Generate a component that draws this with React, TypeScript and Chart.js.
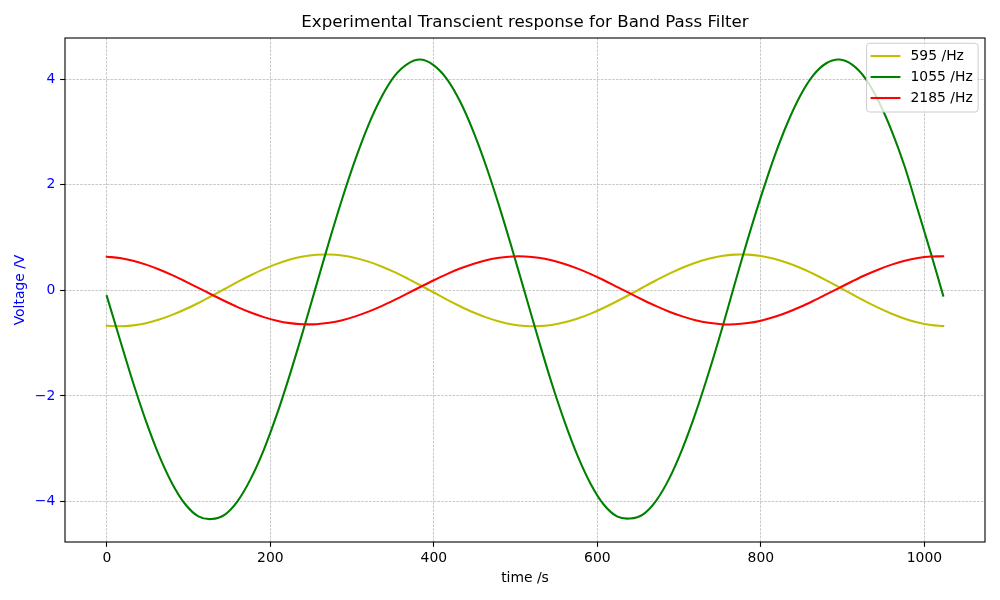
import { useEffect, useRef } from 'react';
import { Chart, registerables } from 'chart.js';

Chart.register(...registerables);

// ---- data ----
const timeValues = [
  0, 16, 32, 48, 64, 80, 96, 112,
  128, 144, 160, 176, 192, 208, 224, 240,
  256, 272, 288, 304, 320, 336, 352, 368,
  384, 400, 416, 432, 448, 464, 480, 496,
  512, 528, 544, 560, 576, 592, 608, 624,
  640, 656, 672, 688, 704, 720, 736, 752,
  768, 784, 800, 816, 832, 848, 864, 880,
  896, 912, 928, 944, 960, 976, 992, 1008,
  1023,
];

const yellow595 = [
  -0.67, -0.68, -0.663, -0.621, -0.554, -0.465, -0.359, -0.239,
  -0.109, 0.025, 0.159, 0.285, 0.401, 0.501, 0.582, 0.64,
  0.673, 0.679, 0.659, 0.614, 0.544, 0.453, 0.345, 0.222,
  0.092, -0.041, -0.175, -0.3, -0.415, -0.512, -0.59, -0.645,
  -0.675, -0.678, -0.655, -0.606, -0.534, -0.441, -0.33, -0.207,
  -0.076, 0.059, 0.191, 0.316, 0.428, 0.524, 0.599, 0.651,
  0.677, 0.677, 0.65, 0.598, 0.522, 0.427, 0.314, 0.19,
  0.057, -0.077, -0.209, -0.333, -0.443, -0.536, -0.608, -0.656,
  -0.675,
];

const green1055 = [
  -0.11, -0.93, -1.74, -2.48, -3.13, -3.66, -4.05, -4.28,
  -4.33, -4.25, -3.99, -3.57, -3.02, -2.35, -1.59, -0.77,
  0.08, 0.93, 1.74, 2.48, 3.13, 3.66, 4.06, 4.29,
  4.37, 4.26, 4.0, 3.58, 3.02, 2.35, 1.59, 0.77,
  -0.08, -0.93, -1.75, -2.49, -3.14, -3.67, -4.06, -4.28,
  -4.32, -4.24, -3.98, -3.56, -3.0, -2.33, -1.57, -0.75,
  0.12, 0.97, 1.77, 2.51, 3.15, 3.68, 4.07, 4.3,
  4.37, 4.27, 4.01, 3.58, 3.02, 2.34, 1.52, 0.7,
  -0.1,
];

const red2185 = [
  0.636, 0.611, 0.56, 0.487, 0.395, 0.289, 0.171, 0.047,
  -0.079, -0.201, -0.317, -0.42, -0.507, -0.575, -0.621, -0.643,
  -0.641, -0.615, -0.565, -0.493, -0.403, -0.298, -0.181, -0.057,
  0.069, 0.192, 0.308, 0.412, 0.501, 0.57, 0.617, 0.642,
  0.642, 0.617, 0.569, 0.5, 0.411, 0.307, 0.191, 0.067,
  -0.058, -0.182, -0.299, -0.404, -0.493, -0.565, -0.615, -0.641,
  -0.643, -0.62, -0.574, -0.506, -0.419, -0.316, -0.2, -0.077,
  0.048, 0.172, 0.29, 0.395, 0.487, 0.56, 0.611, 0.64,
  0.644,
];

const seriesLabels = ['595 /Hz', '1055 /Hz', '2185 /Hz'];
const seriesColors = ['#bfbf00', '#008000', '#ff0000'];
const seriesValues = [yellow595, green1055, red2185];

const xTicks = [0, 200, 400, 600, 800, 1000];
const yTicks = [-4, -2, 0, 2, 4];
const xLimits = [-51.15, 1074.15];
const yLimits = [-4.765, 4.778];

const titleText = 'Experimental Transcient response for Band Pass Filter';
const xLabel = 'time /s';
const yLabel = 'Voltage /V';

const FONT = '"DejaVu Sans", sans-serif';
const TICK_PX = 13.9;

const fmt = (v: number) => (v < 0 ? '\u2212' + Math.abs(v) : String(v));

const framePlugin = {
  id: 'mplFrame',
  afterDatasetsDraw(chart: any) {
    const { ctx, chartArea: a } = chart;
    ctx.save();
    ctx.strokeStyle = '#000000';
    ctx.lineWidth = 1.1;
    ctx.strokeRect(a.left, a.top, a.right - a.left, a.bottom - a.top);
    ctx.restore();
  },
};

const legendPlugin = {
  id: 'mplLegend',
  afterDraw(chart: any) {
    const { ctx, chartArea: a } = chart;
    const ds = chart.data.datasets;
    ctx.save();
    ctx.font = `${TICK_PX}px ${FONT}`;
    const textW = Math.max(...ds.map((d: any) => ctx.measureText(String(d.label)).width));
    const padL = 5;
    const handle = 27.8;
    const gap = 11.1;
    const padR = 5.4;
    const rowH = 21;
    const firstRow = 12.7;
    const lastPad = 14;
    const w = padL + handle + gap + textW + padR;
    const h = firstRow + rowH * (ds.length - 1) + lastPad;
    const right = a.right - 6.9;
    const left = right - w;
    const top = a.top + 5.3;
    const r = 3;
    ctx.beginPath();
    ctx.moveTo(left + r, top);
    ctx.lineTo(left + w - r, top);
    ctx.quadraticCurveTo(left + w, top, left + w, top + r);
    ctx.lineTo(left + w, top + h - r);
    ctx.quadraticCurveTo(left + w, top + h, left + w - r, top + h);
    ctx.lineTo(left + r, top + h);
    ctx.quadraticCurveTo(left, top + h, left, top + h - r);
    ctx.lineTo(left, top + r);
    ctx.quadraticCurveTo(left, top, left + r, top);
    ctx.closePath();
    ctx.fillStyle = 'rgba(255,255,255,0.8)';
    ctx.fill();
    ctx.strokeStyle = '#cccccc';
    ctx.lineWidth = 1;
    ctx.stroke();
    ds.forEach((d: any, i: number) => {
      const y = top + firstRow + i * rowH;
      ctx.beginPath();
      ctx.strokeStyle = d.borderColor;
      ctx.lineWidth = 2.08;
      ctx.lineCap = 'square';
      ctx.moveTo(left + padL, y);
      ctx.lineTo(left + padL + handle, y);
      ctx.stroke();
      ctx.fillStyle = '#000000';
      ctx.textAlign = 'left';
      ctx.textBaseline = 'middle';
      ctx.fillText(String(d.label), left + padL + handle + gap, y + 0.5);
    });
    ctx.restore();
  },
};

export default function App() {
  const ref = useRef<HTMLCanvasElement>(null);

  useEffect(() => {
    const canvas = ref.current;
    if (!canvas) return;
    Chart.defaults.font.family = FONT;

    const datasets = seriesLabels.map((label, i) => ({
      label,
      data: timeValues.map((t, j) => ({ x: t, y: seriesValues[i][j] })),
      borderColor: seriesColors[i],
      backgroundColor: seriesColors[i],
      borderWidth: 2.08,
      pointRadius: 0,
      pointHoverRadius: 0,
      tension: 0.35,
      fill: false,
      borderJoinStyle: 'round' as const,
      borderCapStyle: 'square' as const,
      order: seriesLabels.length - 1 - i,
    }));

    const gridCommon = {
      color: '#b0b0b0',
      lineWidth: 0.7,
      drawTicks: true,
      tickLength: 4.86,
      tickColor: '#000000',
      tickWidth: 1.1,
      tickBorderDash: [],
    };

    const chart = new Chart(canvas, {
      type: 'line',
      data: { datasets },
      options: {
        animation: false,
        responsive: false,
        devicePixelRatio: 1,
        layout: { padding: { left: 0, right: 15, top: 0, bottom: 0 } },
        plugins: {
          legend: { display: false },
          tooltip: { enabled: false },
          title: {
            display: true,
            text: titleText,
            fullSize: false,
            color: '#000000',
            font: { size: 16.67, weight: 'normal', family: FONT, lineHeight: 1.2 },
            padding: { top: 13, bottom: 5 },
          },
        },
        scales: {
          x: {
            type: 'linear',
            min: xLimits[0],
            max: xLimits[1],
            afterBuildTicks: (s: any) => {
              s.ticks = xTicks.map((v) => ({ value: v }));
            },
            afterFit: (s: any) => {
              s.height = 58;
            },
            grid: gridCommon,
            border: { display: false, dash: [2.6, 1.2] },
            ticks: {
              color: '#000000',
              font: { size: TICK_PX, family: FONT },
              padding: 3,
              maxRotation: 0,
              autoSkip: false,
              callback: (v: any) => fmt(Number(v)),
            },
            title: {
              display: true,
              text: xLabel,
              color: '#000000',
              font: { size: TICK_PX, family: FONT },
              padding: { top: 0, bottom: 13.7 },
            },
          },
          y: {
            type: 'linear',
            min: yLimits[0],
            max: yLimits[1],
            afterBuildTicks: (s: any) => {
              s.ticks = yTicks.map((v) => ({ value: v }));
            },
            afterFit: (s: any) => {
              s.width = 65;
            },
            grid: gridCommon,
            border: { display: false, dash: [2.6, 1.2] },
            ticks: {
              color: '#0000ff',
              font: { size: TICK_PX, family: FONT },
              padding: 4.9,
              autoSkip: false,
              callback: (v: any) => fmt(Number(v)),
            },
            title: {
              display: true,
              text: yLabel,
              color: '#0000ff',
              font: { size: TICK_PX, family: FONT },
              padding: { top: 12, bottom: 0 },
            },
          },
        },
      } as any,
      plugins: [framePlugin, legendPlugin],
    });

    return () => chart.destroy();
  }, []);

  return (
    <div style={{ position: 'absolute', left: 0, top: 0, width: 1000, height: 600, background: '#ffffff' }}>
      <canvas ref={ref} width={1000} height={600} style={{ width: 1000, height: 600, display: 'block' }} />
    </div>
  );
}
